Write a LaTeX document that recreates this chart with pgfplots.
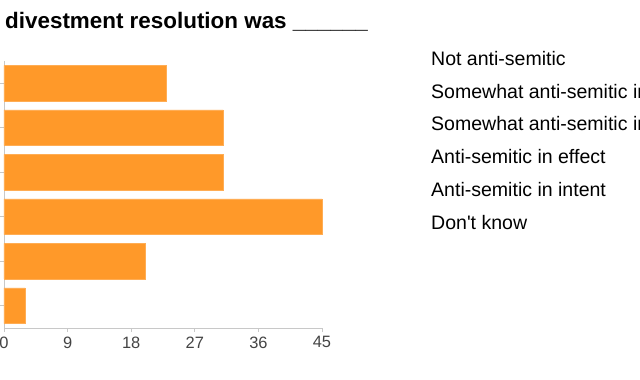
\documentclass[border=0pt]{standalone}
\usepackage{pgfplots}
\pgfplotsset{compat=1.18}
\usepackage{fontspec}
\setmainfont{Liberation Sans}
\newfontfamily\nolig{Liberation Sans}[Ligatures=TeXOff]
\definecolor{barorange}{RGB}{255,153,41}
\definecolor{axisgray}{RGB}{200,200,200}
\definecolor{ticktext}{RGB}{68,68,68}
\begin{document}
\begin{tikzpicture}[x=1bp,y=1bp]
\begin{scope}
\clip (0,0) rectangle (640,379);
\begin{axis}[
  at={(4bp,51bp)}, anchor=south west,
  scale only axis, width=318bp, height=267bp,
  xbar, bar width=0.8,
  xmin=0, xmax=45,
  ymin=-0.5, ymax=5.5, y dir=reverse,
  ytick={0,1,2,3,4,5}, yticklabels={},
  xtick={0,9,18,27,36,45},
  axis lines*=left,
  axis line style={axisgray, line width=0.8pt, -},
  tick style={axisgray, line width=0.8pt},
  tick align=outside, major tick length=4bp,
  tick label style={font=\fontsize{16.5}{19}\selectfont, text=ticktext},
  /pgf/number format/assume math mode=true,
  xticklabel style={yshift=-1bp},
  clip=false,
]
\addplot[fill=barorange, draw=barorange!80!white, line width=0.6pt] coordinates {
  (23,0) (31,1) (31,2) (45,3) (20,4) (3,5)
};
\end{axis}
\node[anchor=base west, inner sep=0, font=\fontsize{22.5}{26}\bfseries\selectfont] at (5,351) {divestment resolution was \_\_\_\_\_\_};
\begin{scope}[font=\fontsize{19.6}{23}\selectfont]
\node[anchor=base west, inner sep=0] at (431,379-65.5) {Not anti-semitic};
\node[anchor=base west, inner sep=0] at (431,379-98) {Somewhat anti-semitic in effect};
\node[anchor=base west, inner sep=0] at (431,379-130.5) {Somewhat anti-semitic in intent};
\node[anchor=base west, inner sep=0] at (431,379-163.5) {Anti-semitic in effect};
\node[anchor=base west, inner sep=0] at (431,379-196.5) {Anti-semitic in intent};
\node[anchor=base west, inner sep=0, font=\fontsize{19.6}{23}\nolig] at (431,379-229) {Don't know};
\end{scope}
\end{scope}
\pgfresetboundingbox
\useasboundingbox (0,0) rectangle (640,379);
\end{tikzpicture}
\end{document}
